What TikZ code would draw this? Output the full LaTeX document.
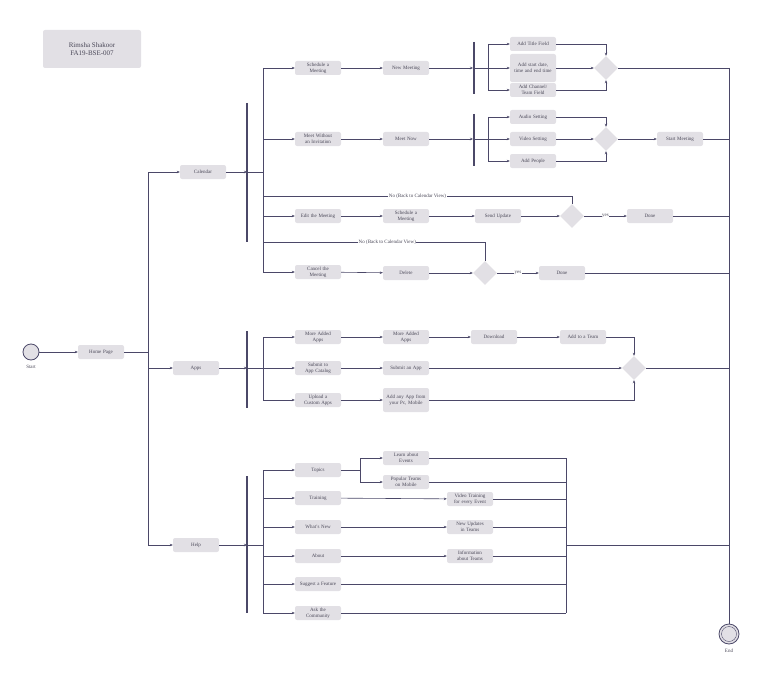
\documentclass[tikz,border=0pt]{standalone}
\usepackage{fontspec}
\setmainfont{Liberation Serif}
\usetikzlibrary{arrows.meta,shapes.geometric,calc}
\definecolor{boxgray}{HTML}{E2E0E5}
\definecolor{linecol}{HTML}{4B4868}
\definecolor{txtcol}{HTML}{4A4858}
\hyphenpenalty=10000
\begin{document}
\begin{tikzpicture}[x=1pt,y=-1pt,>={Stealth[length=3pt,width=2.5pt]},
  every node/.style={font=\fontsize{5}{6}\selectfont,text=txtcol},
  act/.style={fill=boxgray,rounded corners=2pt,minimum width=46pt,minimum height=14pt,align=center,inner sep=1pt,text width=44pt},
  dec/.style={diamond,fill=boxgray,minimum width=24pt,minimum height=24pt,inner sep=0pt},
  bar/.style={line width=2pt,draw=linecol},
  flow/.style={draw=linecol,semithick},
  lbl/.style={fill=white,inner sep=0.5pt},
  term/.style={circle,draw=linecol,fill=boxgray,thick,minimum size=16pt,inner sep=0pt}]
  \useasboundingbox (0,0) rectangle (768,674);

  \node[fill=boxgray,rounded corners=2pt,minimum width=98pt,minimum height=38pt,align=center,font=\fontsize{7}{8}\selectfont] (title) at (92,49) {Rimsha Shakoor\\FA19-BSE-007};

  % start and main branches
  \node[term] (start) at (31,352) {};
  \node[below=1pt] at (start.south) {Start};
  \node[act] (home) at (101,352) {Home Page};
  \node[act] (cal) at (203,172) {Calendar};
  \node[act] (apps) at (196,368) {Apps};
  \node[act] (help) at (196,545) {Help};
  \node[term,minimum size=20pt] (end) at (729,634) {};
  \node[circle,draw=linecol,minimum size=15pt,inner sep=0pt] at (end) {};
  \node[below=1pt] at (end.south) {End};

  \draw[flow,->] (start) -- (home);
  \draw[flow] (home.east) -- (148,352) coordinate (hb);
  \draw[flow] (148,172) -- (148,545);
  \draw[flow,->] (148,172) -- (cal);
  \draw[flow,->] (148,368) -- (apps);
  \draw[flow,->] (148,545) -- (help);

  % calendar
  \draw[bar] (247,103) -- (247,242);
  \draw[flow,->] (cal) -- (247,172);
  \draw[flow] (247,172) -- (263,172);
  \draw[flow] (263,68) -- (263,272);
  \node[act] (sched) at (318,68) {Schedule a\\Meeting};
  \node[act] (meetinv) at (318,139) {Meet Without an Invitation};
  \node[act] (edit) at (318,216) {Edit the Meeting};
  \node[act] (cancel) at (318,272) {Cancel the\\Meeting};
  \foreach \n in {sched,meetinv,edit,cancel}
    \draw[flow,->] (263,0 |- \n) -- (\n);

  \node[act] (newmeet) at (406,68) {New Meeting};
  \node[act] (meetnow) at (406,139) {Meet Now};
  \node[act] (sched2) at (406,216) {Schedule a\\Meeting};
  \node[act] (delete) at (406,273) {Delete};
  \draw[flow,->] (sched) -- (newmeet);
  \draw[flow,->] (meetinv) -- (meetnow);
  \draw[flow,->] (edit) -- (sched2);
  \draw[flow,->] (cancel) -- (delete);

  \draw[bar] (474,42) -- (474,94);
  \draw[bar] (474,114) -- (474,166);
  \draw[flow,->] (newmeet) -- (473,68);
  \draw[flow,->] (meetnow) -- (473,139);
  \draw[flow] (475,68) -- (488,68);
  \draw[flow] (475,139) -- (488,139);
  \draw[flow] (488,44) -- (488,90);
  \draw[flow] (488,117) -- (488,161);

  \node[act] (title) at (533,44) {Add Title Field};
  \node[act,minimum height=28pt] (datetime) at (533,68) {Add start date, time and end time};
  \node[act] (channel) at (533,90) {Add Channel/ Team Field};
  \node[act] (audio) at (533,117) {Audio Setting};
  \node[act] (video) at (533,139) {Video Setting};
  \node[act] (people) at (533,161) {Add People};
  \foreach \n in {title,datetime,channel,audio,video,people}
    \draw[flow,->] (488,0 |- \n) -- (\n);

  \node[dec] (d1) at (606,68) {};
  \node[dec] (d2) at (606,139) {};
  \draw[flow,->] (title) -| (d1);
  \draw[flow,->] (datetime) -- (d1);
  \draw[flow,->] (channel) -| (d1);
  \draw[flow,->] (audio) -| (d2);
  \draw[flow,->] (video) -- (d2);
  \draw[flow,->] (people) -| (d2);
  \node[act] (startmeet) at (680,139) {Start Meeting};
  \draw[flow,->] (d2) -- (startmeet);

  \node[act] (update) at (498,216) {Send Update};
  \node[dec] (d3) at (572,216) {};
  \node[act] (done1) at (650,216) {Done};
  \draw[flow,->] (sched2) -- (update);
  \draw[flow,->] (update) -- (d3);
  \draw[flow,->] (d3) -- node[lbl] {yes} (done1);
  \draw[flow] (d3) |- (263,196) node[pos=0.75,lbl] {No (Back to Calendar View)};

  \node[dec] (d4) at (485,273) {};
  \node[act] (done2) at (562,273) {Done};
  \draw[flow,->] (delete) -- (d4);
  \draw[flow,->] (d4) -- node[lbl] {yes} (done2);
  \draw[flow] (d4) |- (263,242) node[pos=0.72,lbl] {No (Back to Calendar View)};

  % apps
  \draw[bar] (247,331) -- (247,408);
  \draw[flow,->] (apps) -- (247,368);
  \draw[flow] (247,368) -- (263,368);
  \draw[flow] (263,337) -- (263,400);
  \node[act] (moreapps) at (318,337) {More Added\\Apps};
  \node[act] (submit) at (318,368) {Submit to App Catalog};
  \node[act] (upload) at (318,400) {Upload a Custom Apps};
  \foreach \n in {moreapps,submit,upload}
    \draw[flow,->] (263,0 |- \n) -- (\n);
  \node[act] (moreapps2) at (406,337) {More Added\\Apps};
  \node[act] (submit2) at (406,368) {Submit an App};
  \node[act,minimum height=24pt] (anyapp) at (406,400) {Add any App from your Pc, Mobile};
  \node[act] (download) at (494,337) {Download};
  \node[act] (addteam) at (583,337) {Add to a Team};
  \node[dec] (d5) at (634,368) {};
  \draw[flow,->] (moreapps) -- (moreapps2);
  \draw[flow,->] (submit) -- (submit2);
  \draw[flow,->] (upload) -- (anyapp);
  \draw[flow,->] (moreapps2) -- (download);
  \draw[flow,->] (download) -- (addteam);
  \draw[flow,->] (addteam) -| (d5);
  \draw[flow,->] (submit2) -- (d5);
  \draw[flow,->] (anyapp) -| (d5);

  % help
  \draw[bar] (247,476) -- (247,613);
  \draw[flow,->] (help) -- (247,545);
  \draw[flow] (247,545) -- (263,545);
  \draw[flow] (263,470) -- (263,613);
  \node[act] (topics) at (318,470) {Topics};
  \node[act] (training) at (318,498) {Training};
  \node[act] (whatsnew) at (318,527) {What's New};
  \node[act] (about) at (318,556) {About};
  \node[act] (suggest) at (318,584) {Suggest a Feature};
  \node[act] (ask) at (318,613) {Ask the\\Community};
  \foreach \n in {topics,training,whatsnew,about,suggest,ask}
    \draw[flow,->] (263,0 |- \n) -- (\n);
  \node[act] (events) at (406,458) {Learn about\\Events};
  \node[act] (popular) at (406,482) {Popular Teams on Mobile};
  \node[act] (vtrain) at (470,499) {Video Training for every Event};
  \node[act] (updates) at (470,527) {New Updates in Teams};
  \node[act] (info) at (470,556) {Information about Teams};
  \draw[flow] (topics) -- (360,470);
  \draw[flow] (360,458) -- (360,482);
  \draw[flow,->] (360,458) -- (events);
  \draw[flow,->] (360,482) -- (popular);
  \draw[flow,->] (training) -- (vtrain);
  \draw[flow,->] (whatsnew) -- (updates);
  \draw[flow,->] (about) -- (info);
  \draw[flow] (566,458) -- (566,613);
  \foreach \n in {events,popular,vtrain,updates,info}
    \draw[flow] (\n) -- (566,0 |- \n);
  \draw[flow] (suggest) -- (566,584);
  \draw[flow] (ask) -- (566,613);

  % join to end
  \draw[flow] (729,68) -- (end.north);
  \draw[flow] (d1) -- (729,68);
  \draw[flow] (startmeet) -- (729,139);
  \draw[flow] (done1) -- (729,216);
  \draw[flow] (done2) -- (729,273);
  \draw[flow] (d5) -- (729,368);
  \draw[flow] (566,545) -- (729,545);
\end{tikzpicture}
\end{document}
